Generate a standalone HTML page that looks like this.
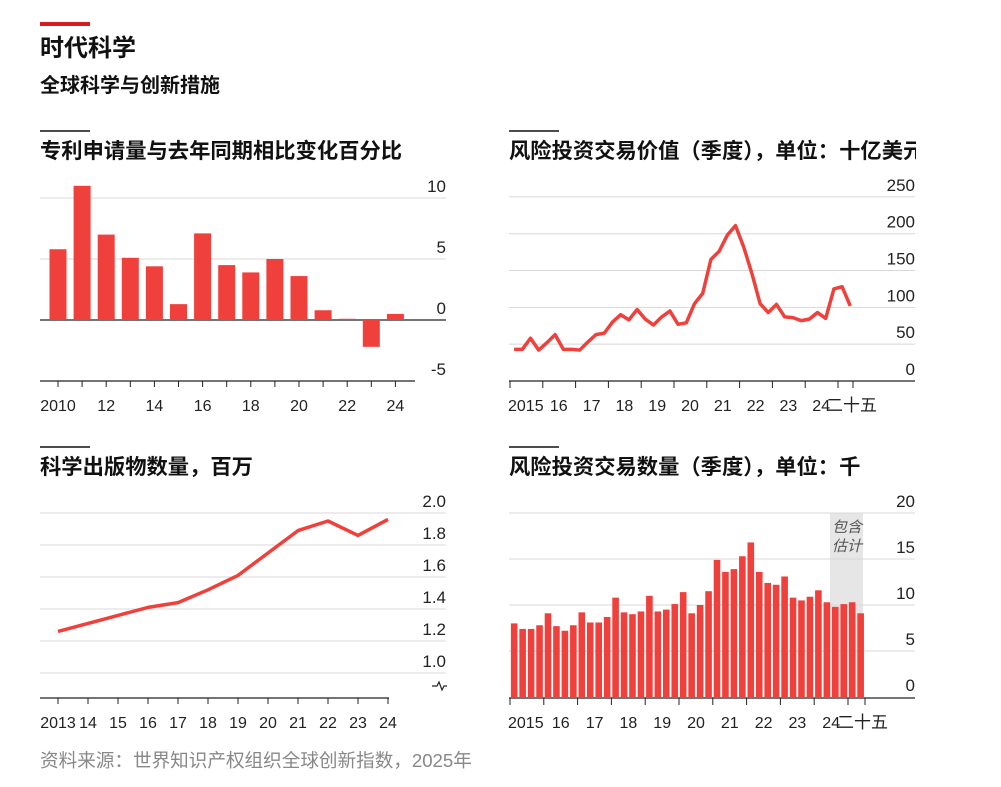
<!DOCTYPE html>
<html><head><meta charset="utf-8">
<style>
body{margin:0;background:#fff;width:1001px;height:782px;overflow:hidden;font-family:"Liberation Sans","Noto Sans CJK SC",sans-serif;}
svg text{font-family:"Liberation Sans","Noto Sans CJK SC",sans-serif;}
</style></head>
<body>
<svg id="s" width="1001" height="782" xmlns="http://www.w3.org/2000/svg">
<defs><clipPath id="clipTR"><rect x="500" y="120" width="416" height="50"/></clipPath></defs>
<rect x="40" y="22" width="50" height="4" fill="#d71920"/>
<text x="40" y="56" font-size="24" font-weight="bold" fill="#111">时代科学</text>
<text x="40" y="92" font-size="20" font-weight="bold" fill="#111">全球科学与创新措施</text>

<line x1="40" y1="131" x2="90" y2="131" stroke="#111" stroke-width="1.5"/>
<text x="40" y="158" font-size="21.3" font-weight="bold" fill="#111">专利申请量与去年同期相比变化百分比</text>
<line x1="509" y1="131" x2="559" y2="131" stroke="#111" stroke-width="1.5"/>
<g clip-path="url(#clipTR)"><text x="509" y="158" font-size="21.3" font-weight="bold" fill="#111">风险投资交易价值（季度），单位：十亿美元</text></g>
<line x1="40" y1="447" x2="90" y2="447" stroke="#111" stroke-width="1.5"/>
<text x="40" y="474" font-size="21.3" font-weight="bold" fill="#111">科学出版物数量，百万</text>
<line x1="509" y1="447" x2="559" y2="447" stroke="#111" stroke-width="1.5"/>
<text x="509" y="474" font-size="21.3" font-weight="bold" fill="#111">风险投资交易数量（季度），单位：千</text>

<text x="40" y="767" font-size="18.6" fill="#888">资料来源：世界知识产权组织全球创新指数，2025年</text>
<g id="g1"></g><g id="g2"></g><g id="g3"></g><g id="g4"></g>
</svg>
<script>
const patentYears=["2010","11","12","13","14","15","16","17","18","19","20","21","22","23","24"];
const patentValues=[5.8,11.0,7.0,5.1,4.4,1.3,7.1,4.5,3.9,5.0,3.6,0.8,0.1,-2.2,0.5];
const patentTicks=[10,5,0,-5];
const patentXLabels=["2010","12","14","16","18","20","22","24"];

const vcValue=[43,43,58,42,52,63,43,43,42,53,63,65,80,90,83,97,84,76,87,95,77,79,105,119,165,176,198,211,182,146,105,93,104,87,86,82,84,93,85,125,128,102];
const vcValueTicks=[250,200,150,100,50,0];
const quarterYearLabels=["2015","16","17","18","19","20","21","22","23","24","二十五"];

const pubYears=["2013","14","15","16","17","18","19","20","21","22","23","24"];
const pubValues=[1.26,1.31,1.36,1.41,1.44,1.52,1.61,1.75,1.89,1.95,1.86,1.96];
const pubTicks=[2.0,1.8,1.6,1.4,1.2,1.0];

const vcCount=[8.0,7.4,7.4,7.8,9.1,7.7,7.2,7.8,9.2,8.1,8.1,8.7,10.8,9.2,9.0,9.3,11.0,9.3,9.5,10.1,11.4,9.1,10.0,11.5,14.9,13.6,13.9,15.3,16.8,13.6,12.4,12.2,13.1,10.8,10.5,10.9,11.6,10.3,9.8,10.1,10.3,9.1];
const vcCountTicks=[20,15,10,5,0];

const NS="http://www.w3.org/2000/svg";
function mk(parent,tag,attrs,txt){const e=document.createElementNS(NS,tag);for(const k in attrs)e.setAttribute(k,attrs[k]);if(txt!==undefined)e.textContent=txt;parent.appendChild(e);return e;}
const RED="#f0403c";

// Chart 1
(function(){
const g=document.getElementById('g1');
const y=v=>320-v*12.2;
const x=i=>58+i*24.1;
patentTicks.forEach(t=>{
 if(t!==-5){const l=mk(g,'line',{x1:40,x2:446,y1:y(t),y2:y(t),stroke:t===0?'#222':'#d8d8d8','stroke-width':t===0?1.2:1});}
 const tx=mk(g,'text',{x:446,y:y(t)-6,'text-anchor':'end','font-size':17,fill:'#222'},String(t));
 
});
patentValues.forEach((v,i)=>{
 const r=mk(g,'rect',{x:x(i)-8.5,width:17,y:Math.min(y(v),y(0)),height:Math.abs(y(v)-y(0)),fill:RED});
 
});
const ax=mk(g,'line',{x1:40,x2:415,y1:381,y2:381,stroke:'#222','stroke-width':1.2});

patentYears.forEach((yr,i)=>{mk(g,'line',{x1:x(i),x2:x(i),y1:381,y2:387,stroke:'#222'});});
patentXLabels.forEach(lb=>{const i=patentYears.indexOf(lb);
 const tx=mk(g,'text',{x:x(i),y:411,'text-anchor':'middle','font-size':16,fill:'#222'},lb);
 });
})();

// Chart 2
(function(){
const g=document.getElementById('g2');
const y=v=>381-v*0.7365;
const yearX=k=>510+k*32.8;
const x=i=>yearX(i/4)+4.1;
vcValueTicks.forEach(t=>{
 if(t!==0){const l=mk(g,'line',{x1:509,x2:915,y1:y(t),y2:y(t),stroke:'#d8d8d8'});}
 const tx=mk(g,'text',{x:915,y:y(t)-6,'text-anchor':'end','font-size':17,fill:'#222'},String(t));
 
});
const ax=mk(g,'line',{x1:509,x2:915,y1:381,y2:381,stroke:'#222','stroke-width':1.2});

quarterYearLabels.forEach((lb,k)=>{mk(g,'line',{x1:yearX(k),x2:yearX(k),y1:381,y2:388,stroke:'#222'});
 const tx=mk(g,'text',{x:yearX(k)+16,y:411,'text-anchor':'middle','font-size':16,fill:'#222'},lb);
 if(k===0){tx.setAttribute('text-anchor','start');tx.setAttribute('x',508);}
 if(k===10){tx.setAttribute('text-anchor','start');tx.setAttribute('x',yearX(k)-12);tx.setAttribute('font-size',17);}
 });
mk(g,'line',{x1:853,x2:853,y1:381,y2:388,stroke:'#222'});
const p=mk(g,'polyline',{points:vcValue.map((v,i)=>x(i)+','+y(v)).join(' '),fill:'none',stroke:RED,'stroke-width':3.5,'stroke-linejoin':'round'});

})();

// Chart 3
(function(){
const g=document.getElementById('g3');
const y=v=>673-(v-1.0)*160;
const x=i=>58+i*30;
pubTicks.forEach(t=>{
 const l=mk(g,'line',{x1:40,x2:446,y1:y(t),y2:y(t),stroke:'#d8d8d8'});
 const tx=mk(g,'text',{x:446,y:y(t)-6,'text-anchor':'end','font-size':17,fill:'#222'},t.toFixed(1));
 
});
const br=mk(g,'path',{d:'M432 686 L437 686 L439 682 L442 690 L444 686 L447 686',fill:'none',stroke:'#222','stroke-width':1.2});

const ax=mk(g,'line',{x1:40,x2:389,y1:698,y2:698,stroke:'#222','stroke-width':1.2});

pubYears.forEach((yr,i)=>{mk(g,'line',{x1:x(i),x2:x(i),y1:698,y2:704,stroke:'#222'});
 const tx=mk(g,'text',{x:x(i),y:728,'text-anchor':'middle','font-size':16,fill:'#222'},yr);
 });
const p=mk(g,'polyline',{points:pubValues.map((v,i)=>x(i)+','+y(v)).join(' '),fill:'none',stroke:RED,'stroke-width':3.5,'stroke-linejoin':'round'});

})();

// Chart 4
(function(){
const g=document.getElementById('g4');
const y=v=>697-v*9.2;
const yearX=k=>510+k*33.8;
const x=i=>yearX(i/4)+4.2;
const sh=mk(g,'rect',{x:830,y:513,width:33,height:184,fill:'#e6e6e6'});

vcCountTicks.forEach(t=>{
 if(t!==0){const l=mk(g,'line',{x1:509,x2:915,y1:y(t),y2:y(t),stroke:'#d8d8d8'});}
 const tx=mk(g,'text',{x:915,y:y(t)-6,'text-anchor':'end','font-size':17,fill:'#222'},String(t));
 
});
vcCount.forEach((v,i)=>{
 const r=mk(g,'rect',{x:x(i)-3.3,width:6.6,y:y(v),height:y(0)-y(v),fill:RED});
 
});
const t1=mk(g,'text',{x:832,y:532,'font-size':15,'font-style':'italic',fill:'#555'},'包含');

const t2=mk(g,'text',{x:832,y:551,'font-size':15,'font-style':'italic',fill:'#555'},'估计');

const ax=mk(g,'line',{x1:509,x2:915,y1:698,y2:698,stroke:'#222','stroke-width':1.2});

quarterYearLabels.forEach((lb,k)=>{mk(g,'line',{x1:yearX(k),x2:yearX(k),y1:698,y2:705,stroke:'#222'});
 const tx=mk(g,'text',{x:yearX(k)+17,y:728,'text-anchor':'middle','font-size':16,fill:'#222'},lb);
 if(k===0){tx.setAttribute('text-anchor','start');tx.setAttribute('x',508);}
 if(k===10){tx.setAttribute('text-anchor','start');tx.setAttribute('x',yearX(k)-11);tx.setAttribute('font-size',17);}
 });
mk(g,'line',{x1:865,x2:865,y1:698,y2:705,stroke:'#222'});
})();
</script>
</body></html>
